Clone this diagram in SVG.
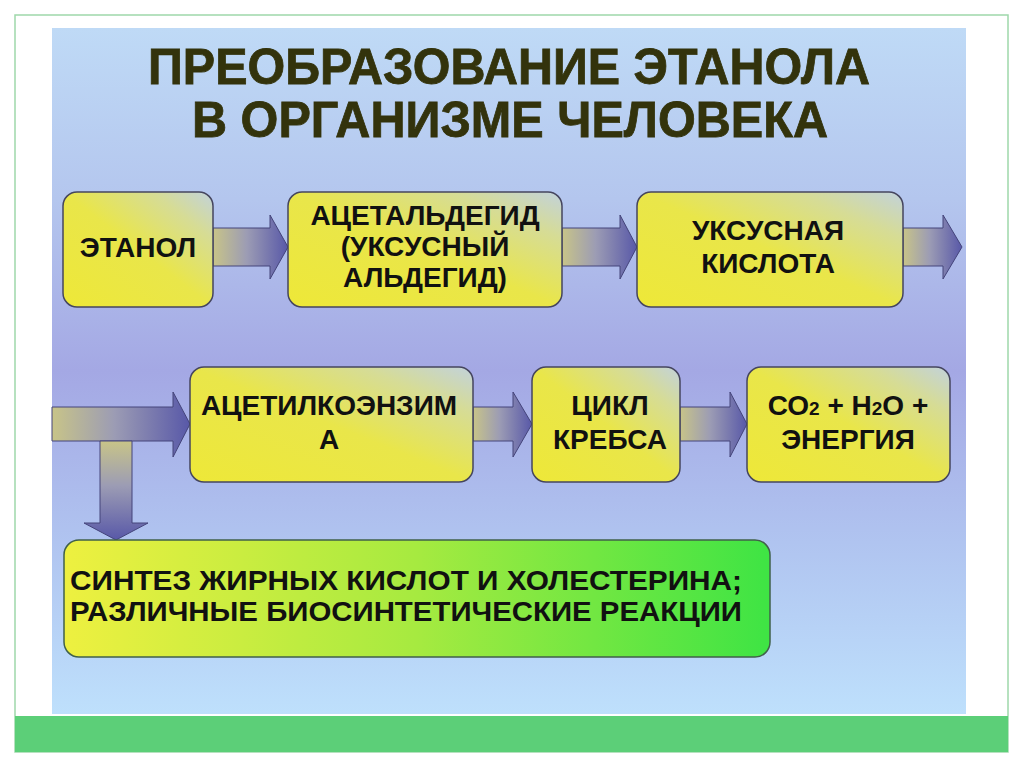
<svg xmlns="http://www.w3.org/2000/svg" width="1024" height="767" viewBox="0 0 1024 767">
<defs>
<linearGradient id="bg" x1="0" y1="0" x2="0" y2="1">
<stop offset="0" stop-color="#bfdaf6"/>
<stop offset="0.25" stop-color="#b4c6ee"/>
<stop offset="0.5" stop-color="#a4a8e4"/>
<stop offset="0.75" stop-color="#b0c4f0"/>
<stop offset="1" stop-color="#bee0fc"/>
</linearGradient>
<linearGradient id="box" x1="0" y1="1" x2="1" y2="0">
<stop offset="0" stop-color="#eee838"/>
<stop offset="0.5" stop-color="#e9e64a"/>
<stop offset="0.8" stop-color="#d6dc96"/>
<stop offset="1" stop-color="#c2d2dc"/>
</linearGradient>
<linearGradient id="green" x1="0" y1="0" x2="1" y2="0">
<stop offset="0" stop-color="#eef040"/>
<stop offset="0.5" stop-color="#a6ea40"/>
<stop offset="1" stop-color="#3ee444"/>
</linearGradient>
<linearGradient id="arrH" x1="0" y1="0" x2="1" y2="0">
<stop offset="0" stop-color="#c8c488"/>
<stop offset="0.45" stop-color="#9c9cb4"/>
<stop offset="1" stop-color="#5858a8"/>
</linearGradient>
<linearGradient id="arrV" x1="0" y1="0" x2="0" y2="1">
<stop offset="0" stop-color="#c8c488"/>
<stop offset="0.45" stop-color="#9c9cb4"/>
<stop offset="1" stop-color="#5858a8"/>
</linearGradient>
<style>
.node{fill:url(#box);stroke:#45455e;stroke-width:1.5}
.arr{fill:url(#arrH);stroke:#44447a;stroke-width:1}
.t{font-family:"Liberation Sans",Arial,sans-serif;font-weight:bold;font-size:28px;fill:#111;text-anchor:middle}
.title{font-family:"Liberation Sans",Arial,sans-serif;font-weight:bold;font-size:50px;fill:#33330c;text-anchor:middle;stroke:#33330c;stroke-width:0.8}
</style>
</defs>
<rect width="1024" height="767" fill="#ffffff"/>
<rect x="15" y="15" width="993" height="737" fill="none" stroke="#9ed8aa" stroke-width="1.5"/>
<rect x="52" y="28" width="914" height="686" fill="url(#bg)"/>
<rect x="15" y="716" width="993" height="36" fill="#5ccf78"/>

<g id="title">
<text class="title" x="509" y="84" textLength="722" lengthAdjust="spacingAndGlyphs">ПРЕОБРАЗОВАНИЕ ЭТАНОЛА</text>
<text class="title" x="510" y="137" textLength="636" lengthAdjust="spacingAndGlyphs">В ОРГАНИЗМЕ ЧЕЛОВЕКА</text>
</g>

<g id="connectors">
<path class="arr" d="M213,228 H270 V215 L288,247 L270,279 V266 H213 Z"/>
<path class="arr" d="M562,228 H620 V215 L637,247 L620,279 V266 H562 Z"/>
<path class="arr" d="M903,228 H943 V215 L962,247 L943,279 V266 H903 Z"/>
<path class="arr" d="M52,407 H173 V392 L190,424 L173,457 V441 H52 Z"/>
<path class="arr" d="M473,407 H513 V392 L532,424 L513,457 V441 H473 Z"/>
<path class="arr" d="M680,407 H730 V392 L747,424 L730,457 V441 H680 Z"/>
<path d="M100,441 H132 V523 H148 L116,540 L84,523 H100 Z" fill="url(#arrV)" stroke="#44447a" stroke-width="1"/>
</g>

<g id="n-ethanol">
<rect class="node" x="63" y="192" width="150" height="115" rx="14"/>
<text class="t" x="138" y="257">ЭТАНОЛ</text>
</g>
<g id="n-acetaldehyde">
<rect class="node" x="288" y="192" width="274" height="115" rx="14"/>
<text class="t" x="425" y="225">АЦЕТАЛЬДЕГИД</text>
<text class="t" x="425" y="256">(УКСУСНЫЙ</text>
<text class="t" x="425" y="287">АЛЬДЕГИД)</text>
</g>
<g id="n-acetic">
<rect class="node" x="637" y="192" width="266" height="115" rx="14"/>
<text class="t" x="768" y="240">УКСУСНАЯ</text>
<text class="t" x="768" y="273">КИСЛОТА</text>
</g>
<g id="n-acetylcoa">
<rect class="node" x="190" y="367" width="283" height="115" rx="14"/>
<text class="t" x="329" y="415">АЦЕТИЛКОЭНЗИМ</text>
<text class="t" x="329" y="449">А</text>
</g>
<g id="n-krebs">
<rect class="node" x="532" y="367" width="148" height="115" rx="14"/>
<text class="t" x="610" y="415">ЦИКЛ</text>
<text class="t" x="610" y="449">КРЕБСА</text>
</g>
<g id="n-products">
<rect class="node" x="747" y="367" width="203" height="115" rx="14"/>
<text class="t" x="848" y="415">СО<tspan font-size="19">2</tspan> + Н<tspan font-size="19">2</tspan>О +</text>
<text class="t" x="848" y="449">ЭНЕРГИЯ</text>
</g>
<g id="n-synthesis">
<rect x="64" y="540" width="706" height="117" rx="15" fill="url(#green)" stroke="#40604a" stroke-width="1.5"/>
<text class="t" x="70" y="590" style="text-anchor:start" textLength="672" lengthAdjust="spacingAndGlyphs">СИНТЕЗ ЖИРНЫХ КИСЛОТ И ХОЛЕСТЕРИНА;</text>
<text class="t" x="70" y="621" style="text-anchor:start" textLength="672" lengthAdjust="spacingAndGlyphs">РАЗЛИЧНЫЕ БИОСИНТЕТИЧЕСКИЕ РЕАКЦИИ</text>
</g>
</svg>
